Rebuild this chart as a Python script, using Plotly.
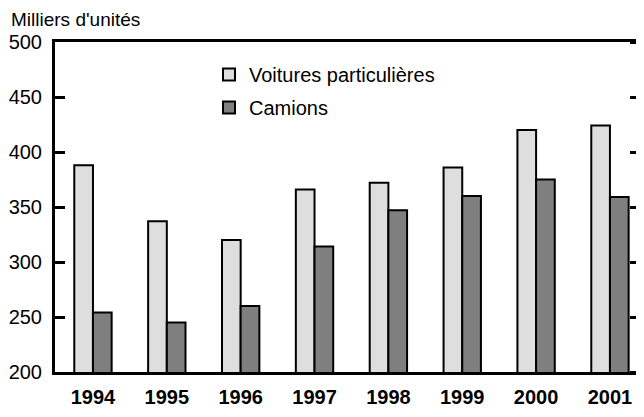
import plotly.graph_objects as go

years = ["1994", "1995", "1996", "1997", "1998", "1999", "2000", "2001"]
voitures = [388, 337, 320, 366, 372, 386, 420, 424]
camions = [254, 245, 260, 314, 347, 360, 375, 359]
y_ticks = [200, 250, 300, 350, 400, 450, 500]

FONT = "Liberation Sans, Arial, sans-serif"

# page body has an 8px margin on every side; size the figure so the page does not overflow
W, H = 636, 401
L, T, R, B = 47, 34, 0, 36.5
PW = W - L - R
PH = H - T - B

fig = go.Figure()
fig.add_trace(go.Bar(
    x=years, y=voitures, name="Voitures particulières", legendgroup="v",
    marker=dict(color="#dedede", line=dict(color="black", width=2)),
))
fig.add_trace(go.Bar(
    x=years, y=camions, name="Camions", legendgroup="c",
    marker=dict(color="#7f7f7f", line=dict(color="black", width=2)),
))
# invisible trace driving the right-hand tick axis
fig.add_trace(go.Scatter(x=years, y=voitures, yaxis="y2", mode="markers",
                         marker=dict(opacity=0), showlegend=False, hoverinfo="skip"))

fig.update_layout(
    width=W, height=H,
    margin=dict(l=L, r=R, t=T, b=B, autoexpand=False),
    paper_bgcolor="white", plot_bgcolor="white",
    barmode="group", bargap=0.494, bargroupgap=0,
    font=dict(family=FONT, size=20, color="black"),
    showlegend=True,
    legend=dict(x=(201 - L) / PW, y=1 - (47 - T) / PH, xanchor="left", yanchor="top",
                bgcolor="rgba(0,0,0,0)", font=dict(size=20, family=FONT),
                tracegroupgap=4),
    xaxis=dict(
        type="category", range=[-0.514, 7.461], automargin=False,
        showline=True, linecolor="black", linewidth=3, mirror=True,
        ticks="", showgrid=False, zeroline=False,
        tickfont=dict(family=FONT, size=20, color="black", weight="bold"),
        ticklabelstandoff=5,
    ),
    yaxis=dict(
        range=[200, 500], tickvals=y_ticks, ticktext=[str(v) for v in y_ticks],
        automargin=False,
        showline=True, linecolor="black", linewidth=3, mirror=False,
        ticks="inside", ticklen=10, tickwidth=3, tickcolor="black",
        showgrid=False, zeroline=False,
        tickfont=dict(family=FONT, size=20, color="black"),
        ticklabelstandoff=6,
    ),
    yaxis2=dict(
        overlaying="y", side="right", anchor="free", position=(621 - L) / PW,
        range=[200, 500], tickvals=y_ticks,
        showticklabels=False, showline=False, automargin=False,
        ticks="outside", ticklen=8, tickwidth=3, tickcolor="black",
        showgrid=False, zeroline=False,
    ),
    annotations=[dict(
        text="Milliers d'unités",
        x=(1 - L) / PW, y=1 + (T + 1.3) / PH, xref="paper", yref="paper",
        showarrow=False, xanchor="left", yanchor="top",
        font=dict(family=FONT, size=19, color="black"),
    )],
)

fig.write_html("out.html")
